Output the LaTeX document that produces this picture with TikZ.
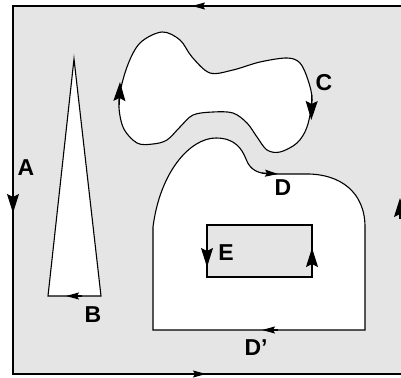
\documentclass[tikz,border=0pt]{standalone}
\usepackage{fontspec}
\setmainfont{Liberation Sans}
\usetikzlibrary{arrows.meta}

\begin{document}
\begin{tikzpicture}[x=1pt,y=1pt,line width=1.1pt]
\tikzstyle{region} = [draw=black, fill=white]
\tikzstyle{hole} = [draw=black, fill=black!10]
\tikzstyle{bigarrow} = [-{Stealth[length=19pt,width=12pt,inset=3pt]}]
\tikzstyle{smallarrow} = [-{Stealth[length=13pt,width=7pt,inset=2pt]}]
\tikzstyle{tag} = [font=\fontsize{23}{23}\selectfont\bfseries, inner sep=0pt]

\useasboundingbox (0,0) rectangle (401,377);

% outer boundary A
\draw[hole] (13,3) rectangle (402,371);
\draw[smallarrow] (210,371) -- (192,371);
\draw[smallarrow] (190,3) -- (206,3);
\draw[bigarrow] (13,186) -- (13,164);
\draw[bigarrow] (400,158) -- (400,179);

% triangle B
\draw[region] (74,318) -- (48,81) -- (101,81) -- cycle;
\draw[smallarrow] (82,81) -- (66,81);

% blob C
\draw[region] plot[smooth cycle, tension=0.55] coordinates
  {(119,277) (127,310) (140,334) (162,345) (180,337) (192,320) (210,304)
   (233,307) (260,315) (287,319) (300,314) (308,297) (312,277) (307,250)
   (297,234) (280,225) (267,227) (257,240) (247,254) (233,264) (213,265)
   (193,262) (180,250) (167,237) (153,233) (137,234) (123,250)};
\draw[bigarrow] (119.3,272) -- (120,295);
\draw[bigarrow] (311.8,282) -- (311.3,257);

% region D
\draw[region] (153,47) -- (153,150)
  .. controls (160,205) and (190,239) .. (216,239)
  .. controls (235,239) and (242,228) .. (246,218)
  .. controls (250,207) and (258,203) .. (272,203)
  -- (307,203)
  .. controls (340,203) and (365,185) .. (365,150)
  -- (365,47) -- cycle;
\draw[smallarrow] (262,204) -- (278,203);
\draw[smallarrow] (278,47) -- (262,47);

% hole E
\draw[hole] (207,100) rectangle (312,152);
\draw[bigarrow] (207,132) -- (207,110);
\draw[bigarrow] (312,110) -- (312,129);

% labels
\node[tag] (labA) at (26,209) {A};
\node[tag] (labB) at (93,62) {B};
\node[tag] (labC) at (324,294) {C};
\node[tag] (labD) at (283,189) {D};
\node[tag] (labDp) at (256,29) {D'};
\node[tag] (labE) at (226,124) {E};
\end{tikzpicture}
\end{document}
